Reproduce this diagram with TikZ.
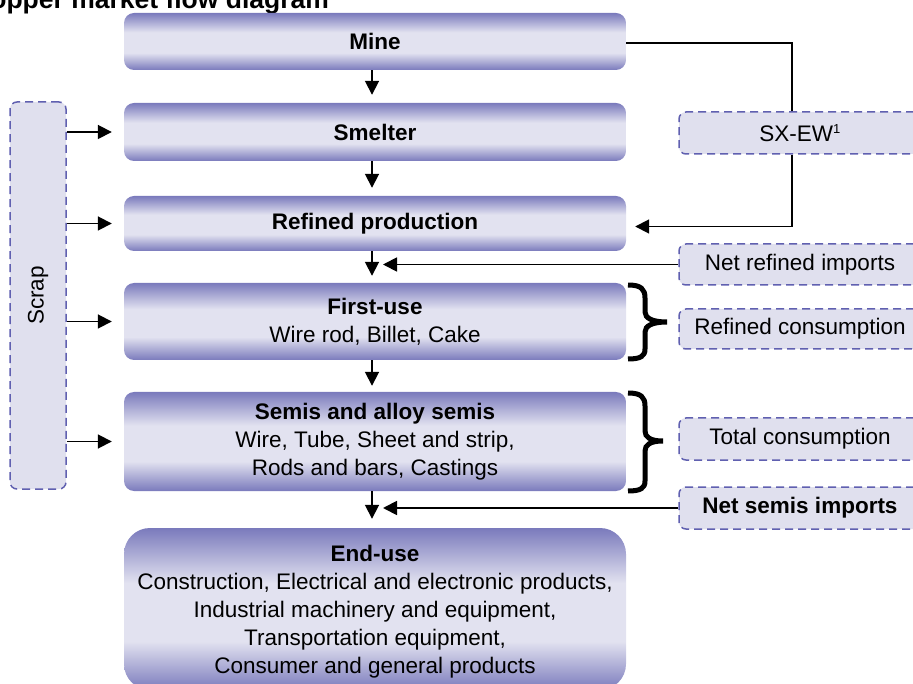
\documentclass[tikz,border=0pt]{standalone}
\usepackage{fontspec}
\setmainfont{Liberation Sans}
\usetikzlibrary{arrows.meta}
\definecolor{bdark}{RGB}{122,122,188}
\definecolor{blight}{RGB}{226,226,240}
\definecolor{dfill}{RGB}{224,224,238}
\definecolor{dline}{RGB}{96,96,176}
\pgfdeclareverticalshading{boxsh}{100bp}{color(0bp)=(bdark); color(25bp)=(bdark); color(40bp)=(blight); color(58bp)=(blight); color(75bp)=(bdark); color(100bp)=(bdark)}
\tikzset{
  flowbox/.style={rectangle, rounded corners=10pt, shading=boxsh, minimum width=502pt, align=center, inner sep=0pt,
    font=\fontsize{22.5}{28}\selectfont},
  dbox/.style={rectangle, rounded corners=7pt, draw=dline, fill=dfill, line width=1.5pt, dash pattern=on 8pt off 5pt,
    inner sep=0pt, font=\fontsize{22.5}{26}\selectfont},
  arr/.style={line width=1.8pt, -{Triangle[length=14pt,width=14pt]}},
  conn/.style={line width=1.8pt},
  bracestyle/.style={line width=5pt},
}
\begin{document}
\begin{tikzpicture}[x=1pt,y=-1pt]
\useasboundingbox (0,0) rectangle (913,684);
% title
\node[anchor=base west, inner sep=0pt, font=\fontsize{26.5}{30}\selectfont\bfseries] (title) at (-29,9) {Copper market flow diagram};
% main boxes
\node[flowbox, minimum height=57pt] (mine) at (375,41.5) {\textbf{Mine}};
\node[flowbox, minimum height=58pt] (smelter) at (375,132) {\textbf{Smelter}};
\node[flowbox, minimum height=55pt] (refined) at (375,223.5) {\textbf{Refined production}};
\node[flowbox, minimum height=77pt] (firstuse) at (375,321.5) {\textbf{First-use}\\Wire rod, Billet, Cake};
\node[flowbox, minimum height=99pt] (semis) at (375,441.5) {\textbf{Semis and alloy semis}\\Wire, Tube, Sheet and strip,\\Rods and bars, Castings};
\node[flowbox, minimum height=162pt, rounded corners=26pt, text depth=0pt] (enduse) at (375,609) {\textbf{End-use}\\Construction, Electrical and electronic products,\\Industrial machinery and equipment,\\Transportation equipment,\\Consumer and general products};
% scrap
\node[dbox, minimum width=56pt, minimum height=387pt] (scrap) at (38,295.5) {};
\node[rotate=90, font=\fontsize{22.5}{26}\selectfont] (scraptxt) at (scrap.center) {Scrap};
% right boxes
\node[dbox, minimum width=242pt, minimum height=42pt] (sxew) at (800,133) {SX-EW\textsuperscript{\fontsize{13}{13}\selectfont 1}};
\node[dbox, minimum width=242pt, minimum height=41pt] (nri) at (800,264.5) {Net refined imports};
\node[dbox, minimum width=242pt, minimum height=40pt] (rc) at (800,329) {Refined consumption};
\node[dbox, minimum width=242pt, minimum height=42pt] (tc) at (800,439) {Total consumption};
\node[dbox, minimum width=242pt, minimum height=42pt] (nsi) at (800,508) {\textbf{Net semis imports}};
% down arrows
\draw[arr, shorten >=8pt] ([xshift=-3pt]mine.south) -- ([xshift=-3pt]smelter.north);
\draw[arr, shorten >=8pt] ([xshift=-3pt]smelter.south) -- ([xshift=-3pt]refined.north);
\draw[arr, shorten >=7pt] ([xshift=-3pt]refined.south) -- ([xshift=-3pt]firstuse.north);
\draw[arr, shorten >=6pt] ([xshift=-3pt]firstuse.south) -- ([xshift=-3pt]semis.north);
\draw[arr, shorten >=9pt] ([xshift=-3pt]semis.south) -- ([xshift=-3pt]enduse.north);
% scrap arrows
\draw[arr, shorten >=12pt] (scrap.east |- smelter.west) -- (smelter.west);
\draw[arr, shorten >=12pt] (scrap.east |- refined.west) -- (refined.west);
\draw[arr, shorten >=12pt] (scrap.east |- firstuse.west) -- (firstuse.west);
\draw[arr, shorten >=12pt] (scrap.east |- semis.west) -- (semis.west);
% SX-EW path
\coordinate (sxtop) at ([xshift=-8pt]sxew.north);
\coordinate (sxbot) at ([xshift=-8pt]sxew.south);
\draw[conn] ([yshift=-1.5pt]mine.east) -| (sxtop);
\draw[arr, shorten >=9pt] (sxbot) |- ([yshift=-3pt]refined.east);
% imports
\coordinate (nritip) at (383,264.5);
\coordinate (nsitip) at (383,508);
\draw[arr] (nri.west) -- (nritip);
\draw[arr] (nsi.west) -- (nsitip);
% braces
\draw[bracestyle] (628,285) .. controls (641,285) and (645,289) .. (645,298) -- (645,312)
  .. controls (645,318) and (652,322) .. (667,322)
  .. controls (652,322) and (645,326) .. (645,332) -- (645,349)
  .. controls (645,356) and (641,359) .. (628,359);
\draw[bracestyle] (628,393) .. controls (641,393) and (645,397) .. (645,406) -- (645,431)
  .. controls (645,437) and (650,441) .. (663,441)
  .. controls (650,441) and (645,445) .. (645,451) -- (645,481)
  .. controls (645,488) and (641,491) .. (628,491);
\end{tikzpicture}
\end{document}
